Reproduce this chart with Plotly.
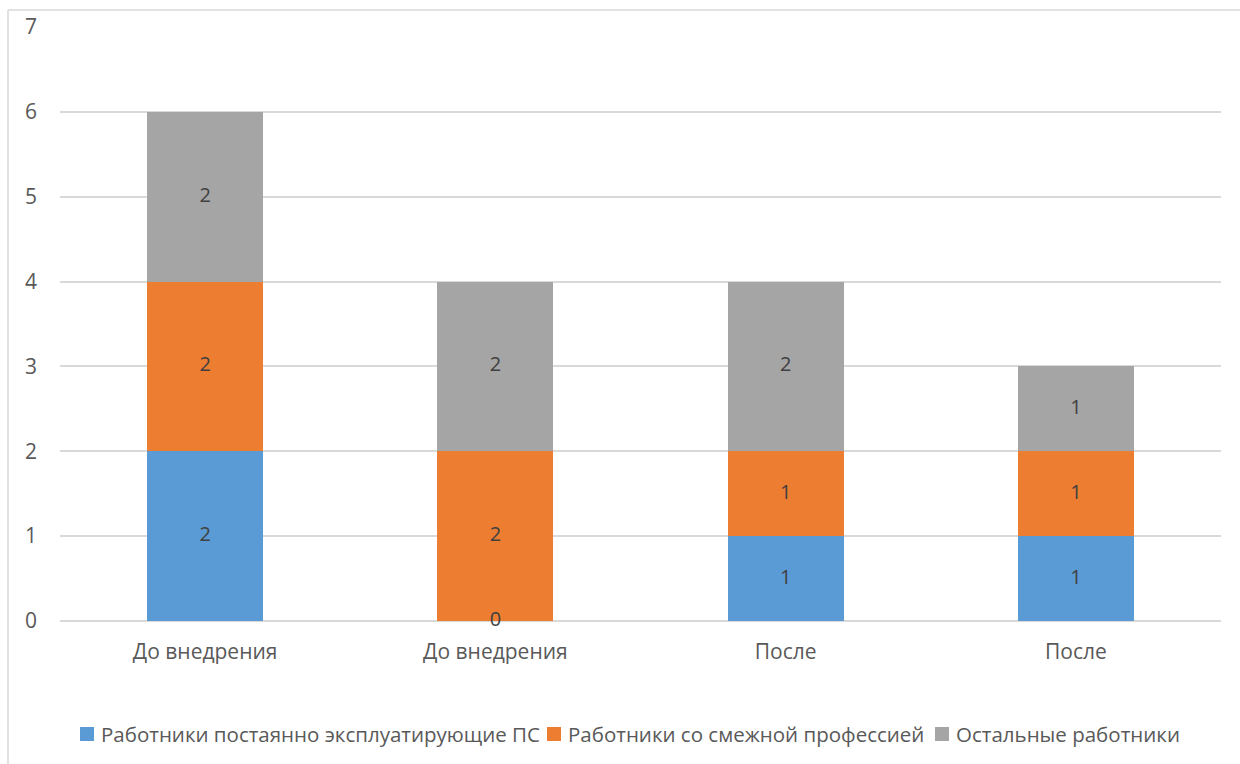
import plotly.graph_objects as go

# Chart data
categories = ["До внедрения", "До внедрения", "После", "После"]
series_names = [
    "Работники постаянно эксплуатирующие ПС",
    "Работники со смежной профессией",
    "Остальные работники",
]
operators = [2, 0, 1, 1]
related = [2, 2, 1, 1]
others = [2, 2, 2, 1]
y_ticks = [0, 1, 2, 3, 4, 5, 6, 7]

series_values = [operators, related, others]
colors = ["#5B9BD5", "#ED7D31", "#A5A5A5"]

W, H = 1240, 764
L, R, T, B = 60, 19, 27, 143
FONT = "Open Sans"
FS = 21
TEXT = "#595959"
GRID = "#D9D9D9"

x = list(range(len(categories)))
fig = go.Figure()

base = [0] * len(categories)
label_x, label_y, label_t = [], [], []
for name, vals, col in zip(series_names, series_values, colors):
    fig.add_trace(go.Bar(
        x=x, y=vals, name=name, marker=dict(color=col, line=dict(width=0)),
        width=0.4, hoverinfo="skip", showlegend=False,
    ))
    for i, v in enumerate(vals):
        label_x.append(i)
        label_y.append(base[i] + v / 2)
        label_t.append(str(v))
        base[i] += v

# value labels, centred in each segment
fig.add_trace(go.Scatter(
    x=label_x, y=label_y, text=label_t, mode="text",
    textfont=dict(family=FONT, size=20, color="#404040"),
    showlegend=False, hoverinfo="skip", cliponaxis=False,
))

# pixel -> paper coordinate helpers
px_x = lambda p: (p - L) / (W - L - R)
px_y = lambda p: (H - B - p) / (H - T - B)

# outer frame of the chart area (left and top edges)
frame = dict(color=GRID, width=1.5)
fig.add_shape(type="line", xref="paper", yref="paper",
              x0=px_x(8), x1=px_x(8), y0=px_y(10), y1=px_y(H + 5), line=frame)
fig.add_shape(type="line", xref="paper", yref="paper",
              x0=px_x(8), x1=px_x(W + 5), y0=px_y(10), y1=px_y(10), line=frame)

# legend row below the plot
legend_left = [80, 547, 935]
legend_cy = 734
sq = 14
for name, col, lx in zip(series_names, colors, legend_left):
    fig.add_shape(type="rect", xref="paper", yref="paper",
                  x0=px_x(lx), x1=px_x(lx + sq),
                  y0=px_y(legend_cy + sq / 2), y1=px_y(legend_cy - sq / 2),
                  fillcolor=col, line=dict(width=0))
    fig.add_annotation(xref="paper", yref="paper",
                       x=px_x(lx + sq + 5), y=px_y(legend_cy),
                       xanchor="left", yanchor="middle", showarrow=False,
                       text=name, font=dict(family=FONT, size=20.5, color=TEXT))

fig.update_layout(
    barmode="stack",
    width=W, height=H,
    margin=dict(l=L, r=R, t=T, b=B),
    paper_bgcolor="white", plot_bgcolor="white",
    font=dict(family=FONT, size=FS, color=TEXT),
    showlegend=False,
)
fig.update_xaxes(
    range=[-0.5, len(categories) - 0.5],
    tickmode="array", tickvals=x, ticktext=categories,
    showgrid=False, zeroline=False, showline=False,
    ticks="", ticklabelstandoff=16,
    tickfont=dict(family=FONT, size=FS, color=TEXT),
)
fig.update_yaxes(
    range=[0, 7], tickmode="array", tickvals=y_ticks,
    showgrid=True, gridcolor=GRID, gridwidth=1.5,
    zeroline=True, zerolinecolor=GRID, zerolinewidth=1.5,
    showline=False, ticks="", ticklabelstandoff=22,
    tickfont=dict(family=FONT, size=FS, color=TEXT),
)

fig.write_html("out.html")
